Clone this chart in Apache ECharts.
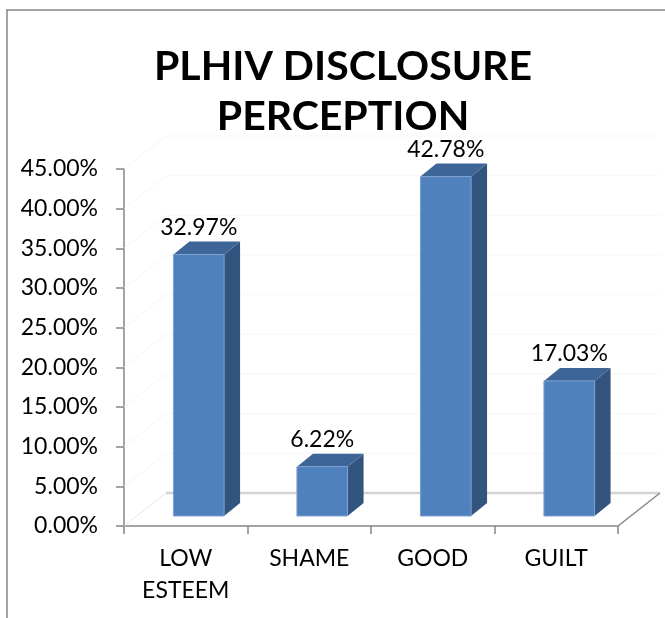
<!DOCTYPE html>
<html>
<head>
<meta charset="utf-8">
<script src="https://cdn.jsdelivr.net/npm/echarts@6/dist/echarts.min.js"></script>
<style>
  html, body { margin: 0; padding: 0; background: #fff; }
  #main { width: 665px; height: 618px; }
</style>
</head>
<body>
<div id="main"></div>
<script>
// Данные
let categories = ["LOW ESTEEM", "SHAME", "GOOD", "GUILT"];
let values = [32.97, 6.22, 42.78, 17.03];
let yTicks = [0, 5, 10, 15, 20, 25, 30, 35, 40, 45];

// Смещения "глубины" для псевдо-3D
let floorDepth = [42, -33];
let barShift = [13, -10];
let barDepth = [16, -13];

let colors = {
  front: "#4f81bd",
  top: "#3d6598",
  side: "#32547f",
  edge: "#7fa2d0",
  axis: "#868686",
  text: "#000000",
};

let myChart = echarts.init(document.getElementById("main"));

// Пол и стенки
let renderFloor = (params, api) => {
  let cs = params.coordSys;
  let x0 = cs.x;
  let x1 = cs.x + cs.width;
  let y0 = api.coord([0, 0])[1];
  let dx = floorDepth[0];
  let dy = floorDepth[1];
  let children = [];
  yTicks.forEach((t) => {
    if (t === 0) return;
    let y = api.coord([0, t])[1];
    children.push({
      type: "line",
      shape: { x1: x0 + dx, y1: y + dy, x2: x1 + dx, y2: y + dy },
      style: { stroke: "#f7f7f7", lineWidth: 1 },
    });
    children.push({
      type: "line",
      shape: { x1: x0, y1: y, x2: x0 + dx, y2: y + dy },
      style: { stroke: "#f5f5f5", lineWidth: 1 },
    });
  });
  children.push({
    type: "line",
    shape: { x1: x0 + dx, y1: y0 + dy, x2: x1 + dx, y2: y0 + dy },
    style: { stroke: "#d4d4d4", lineWidth: 2.5 },
  });
  children.push({
    type: "line",
    shape: { x1: x0, y1: y0, x2: x0 + dx, y2: y0 + dy },
    style: { stroke: "#e6e6e6", lineWidth: 1 },
  });
  children.push({
    type: "line",
    shape: { x1: x1, y1: y0, x2: x1 + dx, y2: y0 + dy },
    style: { stroke: colors.axis, lineWidth: 1.5 },
  });
  return { type: "group", children: children };
};

// Столбцы
let renderBar = (params, api) => {
  let i = api.value(0);
  let v = api.value(1);
  let base = api.coord([i, 0]);
  let top = api.coord([i, v]);
  let w = api.size([1, 0])[0] * 0.41;
  let xl = base[0] - w / 2 + barShift[0];
  let xr = base[0] + w / 2 + barShift[0];
  let yb = base[1] + barShift[1];
  let yt = top[1] + barShift[1];
  let dx = barDepth[0];
  let dy = barDepth[1];
  return {
    type: "group",
    children: [
      {
        type: "polygon",
        shape: { points: [[xr, yt], [xr, yb], [xr + dx, yb + dy], [xr + dx, yt + dy]] },
        style: { fill: colors.side },
      },
      {
        type: "polygon",
        shape: { points: [[xl, yt], [xr, yt], [xr + dx, yt + dy], [xl + dx, yt + dy]] },
        style: { fill: colors.top },
      },
      {
        type: "rect",
        shape: { x: xl, y: yt, width: xr - xl, height: yb - yt },
        style: { fill: colors.front, stroke: colors.edge, lineWidth: 1 },
      },
      {
        type: "text",
        x: (xl + xr) / 2,
        y: yt - 27,
        style: {
          text: v.toFixed(2) + "%",
          fill: colors.text,
          font: "23px Lato",
          align: "center",
          verticalAlign: "middle",
        },
      },
    ],
  };
};

let getOption = () => {
  return {
    animation: false,
    title: {
      text: "PLHIV DISCLOSURE\nPERCEPTION",
      left: 338,
      top: 37,
      textAlign: "center",
      textStyle: {
        fontFamily: "Lato",
        fontWeight: "bold",
        fontSize: 41,
        lineHeight: 50,
        color: colors.text,
      },
    },
    graphic: [
      {
        type: "rect",
        z: -10,
        shape: { x: 7, y: 10, width: 700, height: 700 },
        style: { fill: "none", stroke: colors.axis, lineWidth: 1.5 },
      },
    ],
    grid: {
      left: 124,
      right: 47,
      top: 169,
      bottom: 92,
      containLabel: false,
    },
    textStyle: {
      fontFamily: "Lato",
    },
    xAxis: {
      type: "category",
      data: categories,
      axisLine: { show: true, lineStyle: { color: colors.axis, width: 1.5 } },
      axisTick: { show: true, length: 8, lineStyle: { color: colors.axis, width: 1.5 } },
      axisLabel: {
        interval: 0,
        margin: 17,
        color: colors.text,
        fontSize: 23,
        lineHeight: 32,
        formatter: (v) => v.replace(" ", "\n"),
      },
      splitLine: { show: false },
    },
    yAxis: {
      type: "value",
      min: 0,
      max: 45,
      interval: 5,
      axisLine: { show: true, lineStyle: { color: colors.axis, width: 1.5 } },
      axisTick: { show: true, length: 8, lineStyle: { color: colors.axis, width: 1.5 } },
      axisLabel: {
        margin: 26,
        color: colors.text,
        fontSize: 23,
        formatter: (v) => v.toFixed(2) + "%",
      },
      splitLine: { show: false },
    },
    series: [
      {
        type: "custom",
        z: 1,
        data: [[0, 0]],
        renderItem: renderFloor,
        silent: true,
      },
      {
        type: "custom",
        z: 2,
        data: categories.map((c, i) => [i, values[i]]),
        renderItem: renderBar,
      },
    ],
  };
};

myChart.setOption(getOption());
window.addEventListener("resize", function () {
  myChart.resize();
});
</script>
</body>
</html>
